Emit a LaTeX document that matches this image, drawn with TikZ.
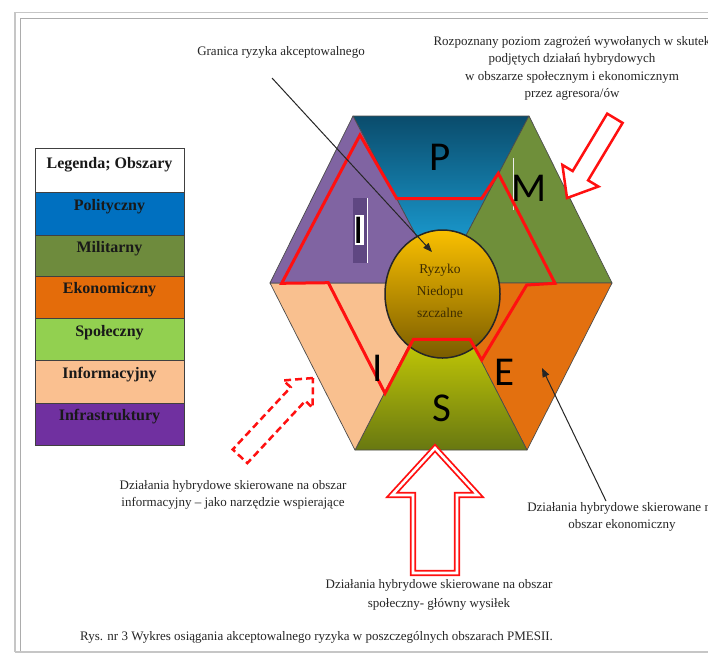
\documentclass[tikz,border=0pt]{standalone}
\usepackage{fontspec}
\setmainfont{Liberation Serif}
\newfontfamily\letterfont{Carlito}
\usetikzlibrary{arrows.meta,shapes.geometric}
\definecolor{pTop}{HTML}{0A4C6C}
\definecolor{pMid}{HTML}{0F6A92}
\definecolor{pBot}{HTML}{1FB2EE}
\definecolor{mGreen}{HTML}{6F8F3A}
\definecolor{eOrange}{HTML}{E3700F}
\definecolor{sTop}{HTML}{F2F200}
\definecolor{sBot}{HTML}{687811}
\definecolor{iPeach}{HTML}{F9C08F}
\definecolor{iPurple}{HTML}{8064A2}
\definecolor{iPurpleDark}{HTML}{5F4782}
\definecolor{cTop}{HTML}{FAC000}
\definecolor{cBot}{HTML}{7A5C00}
\definecolor{cText}{HTML}{3E2C00}
\definecolor{lgBlue}{HTML}{0070C0}
\definecolor{lgOlive}{HTML}{6E8B3D}
\definecolor{lgOrange}{HTML}{E46C0A}
\definecolor{lgGreen}{HTML}{92D050}
\definecolor{lgPeach}{HTML}{FAC090}
\definecolor{lgPurple}{HTML}{7030A0}
\definecolor{redA}{HTML}{FF1010}
\begin{document}
\begin{tikzpicture}[x=1pt,y=-1pt,
  txt/.style={font=\fontsize{13}{17.5}\selectfont, align=center, inner sep=0pt, text=black!85},
  legcell/.style={draw=black!75, line width=0.8pt, minimum width=149pt, inner sep=0pt, outer sep=0pt, anchor=north, font=\fontsize{16}{18}\selectfont\bfseries, text=black!90},
  sector/.style={draw=black!70, line width=0.7pt, line join=round},
  bigletter/.style={font=\letterfont\fontsize{41}{41}\selectfont, inner sep=0pt, text=black},
  redline/.style={draw=redA, line width=3pt, line join=miter},
  blackarrow/.style={draw=black!85, line width=1pt, -{Triangle[length=9pt,width=7pt]}},
  blockarrow/.style={draw=redA, line width=2.5pt, fill=white, line join=miter},
  riskcircle/.style={ellipse, draw=black!85, line width=1.5pt, minimum width=115pt, minimum height=128pt, top color=cTop, bottom color=cBot, inner sep=0pt}
]
\useasboundingbox (0,0) rectangle (708,656);
\fill[white] (0,0) rectangle (708,656);

% frame
\draw[gray!45, line width=1.6pt] (15,652) -- (15,12.5) -- (720,12.5);
\draw[gray!65, line width=1.1pt] (20.5,652) -- (20.5,18.5) -- (720,18.5);
\draw[gray!45, line width=1.4pt] (15,652) -- (720,652);

% legend
\node[legcell, fill=white, text height=20.5pt, text depth=23.5pt] (leghead) at (109.5,148) {Legenda; Obszary};
\node[legcell, fill=lgBlue, text height=18pt, text depth=25pt] (legP) at (109.5,192) {Polityczny};
\node[legcell, fill=lgOlive, text height=17pt, text depth=24pt] (legM) at (109.5,235) {Militarny};
\node[legcell, fill=lgOrange, text height=17pt, text depth=25pt] (legE) at (109.5,276) {Ekonomiczny};
\node[legcell, fill=lgGreen, text height=18pt, text depth=24pt] (legS) at (109.5,318) {Społeczny};
\node[legcell, fill=lgPeach, text height=18pt, text depth=25pt] (legI) at (109.5,360) {Informacyjny};
\node[legcell, fill=lgPurple, text height=17pt, text depth=25pt] (legInf) at (109.5,403) {Infrastruktury\hspace{26pt}};

% hexagon
\coordinate (C) at (441,283);
\coordinate (TL) at (353,116);
\coordinate (TR) at (529,116);
\coordinate (R) at (612,283);
\coordinate (BR) at (527,450);
\coordinate (BL) at (355,450);
\coordinate (L) at (270,283);

\draw[sector, top color=pTop, middle color=pMid, bottom color=pBot] (TL) -- (TR) -- (C) -- cycle;
\draw[sector, fill=mGreen] (TR) -- (R) -- (C) -- cycle;
\draw[sector, fill=eOrange] (R) -- (BR) -- (C) -- cycle;
\draw[sector, top color=sTop, bottom color=sBot] (BR) -- (BL) -- (C) -- cycle;
\draw[sector, fill=iPeach] (BL) -- (L) -- (C) -- cycle;
\draw[sector, fill=iPurple] (L) -- (TL) -- (C) -- cycle;

% decorations around letters I and M
\fill[iPurpleDark] (352.5,198) rectangle (367,263);
\draw[white, line width=0.6pt] (367,198) -- (367,263);
\draw[white!85!gray, line width=0.8pt] (513,158) -- (513,210);

% central circle
\node[riskcircle] (risk) at (442.5,294) {};
\node[font=\fontsize{13.5}{22}\selectfont, align=center, text=cText, inner sep=0pt] (risktext) at (440,290.5) {Ryzyko\\Niedopu\\szczalne};

% acceptable risk boundary
\draw[redline] (281.7,283.3) -- (360,135) -- (396.7,198.5) -- (481.7,198.5) -- (498.3,173.3) -- (555,283.3) -- (526.7,285) -- (481.7,360) -- (470,339.3) -- (413.3,339.3) -- (385,393.3) -- (328.3,282.7) -- cycle;

% letters
\node[bigletter] (lP) at (440,157) {P};
\node[bigletter] (lM) at (529,188) {M};
\fill[white] (354.5,214.5) rectangle (363.5,245);
\node[bigletter] (lI1) at (359,230) {I};
\node[bigletter] (lI2) at (378,368) {I};
\node[bigletter] (lE) at (505,372) {E};
\node[bigletter] (lS) at (442,408) {S};

% texts
\node[txt] (granica) at (281,52) {Granica ryzyka akceptowalnego};
\node[txt] (rozp) at (572,68.5) {Rozpoznany poziom zagrożeń wywołanych w skutek\\podjętych działań hybrydowych\\w obszarze społecznym i ekonomicznym\\przez agresora/ów};
\node[txt] (infotxt) at (233,495) {Działania hybrydowe skierowane na obszar\\informacyjny – jako narzędzie wspierające};
\node[txt, font=\fontsize{13}{19}\selectfont] (spoltxt) at (439,595) {Działania hybrydowe skierowane na obszar\\społeczny- główny wysiłek};
\node[txt] (ekontxt) at (622,517) {Działania hybrydowe skierowane na\\obszar ekonomiczny};
\node[txt, anchor=west] (caption) at (80,637) {Rys. nr 3 Wykres osiągania akceptowalnego ryzyka w poszczególnych obszarach PMESII.};

% black pointer arrows
\coordinate (g1) at (272,78);
\coordinate (g2) at (432,252);
\draw[blackarrow] (g1) -- (g2);
\coordinate (e1) at (606,501);
\coordinate (e2) at (542,368);
\draw[blackarrow] (e1) -- (e2);

% upper right block arrow (pointing down-left)
\begin{scope}[shift={(567,198)}, rotate=59]
\draw[blockarrow] (0,0) -- (26,21) -- (26,9) -- (93,9) -- (93,-9) -- (26,-9) -- (26,-21) -- cycle;
\end{scope}

% lower left dashed block arrow (pointing up-right)
\begin{scope}[shift={(313,378)}, rotate=227]
\draw[blockarrow, dash pattern=on 7pt off 4pt] (0,0) -- (22,20) -- (22,10) -- (107,10) -- (107,-10) -- (22,-10) -- (22,-20) -- cycle;
\end{scope}

% bottom block arrow (pointing up)
\draw[draw=redA, line width=1.8pt, double=white, double distance=2.6pt, fill=white, line join=miter] (435,448) -- (478,495) -- (457,495) -- (457,573) -- (413,573) -- (413,495) -- (392,495) -- cycle;
\end{tikzpicture}
\end{document}
